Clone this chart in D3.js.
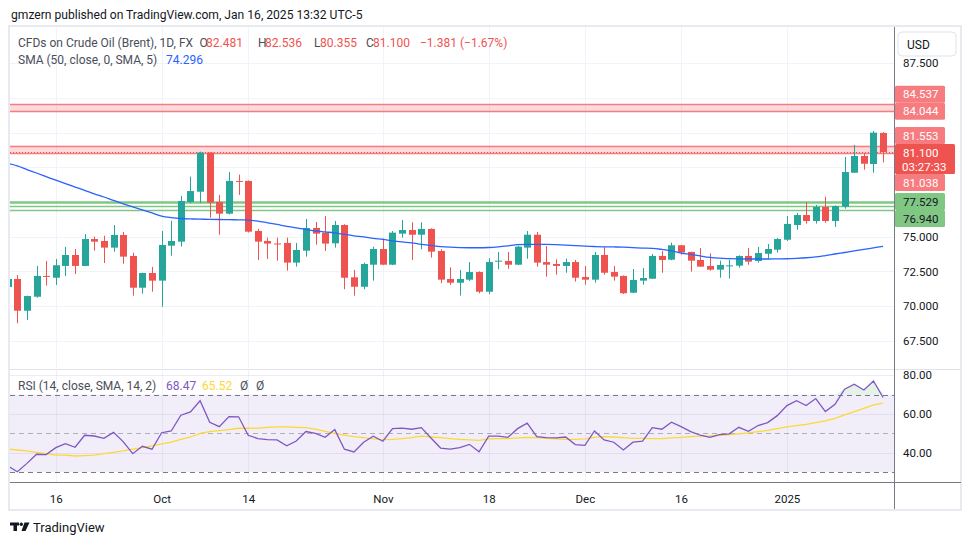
<!DOCTYPE html>
<html>
<head>
<meta charset="utf-8">
<script src="https://cdn.jsdelivr.net/npm/d3@7"></script>
<style>
  body { margin: 0; background: #fff; }
  svg text { font-family: Roboto, "Noto Sans", sans-serif; }
</style>
</head>
<body>
<svg id="chart" width="970" height="545"></svg>
<script>
// 1. Podaci (ocitani sa slike)

const dates = [
  "2024-09-09","2024-09-10","2024-09-11","2024-09-12","2024-09-13","2024-09-16","2024-09-17","2024-09-18",
  "2024-09-19","2024-09-20","2024-09-23","2024-09-24","2024-09-25","2024-09-26","2024-09-27","2024-09-30",
  "2024-10-01","2024-10-02","2024-10-03","2024-10-04","2024-10-07","2024-10-08","2024-10-09","2024-10-10",
  "2024-10-11","2024-10-14","2024-10-15","2024-10-16","2024-10-17","2024-10-18","2024-10-21","2024-10-22",
  "2024-10-23","2024-10-24","2024-10-25","2024-10-28","2024-10-29","2024-10-30","2024-10-31","2024-11-01",
  "2024-11-04","2024-11-05","2024-11-06","2024-11-07","2024-11-08","2024-11-11","2024-11-12","2024-11-13",
  "2024-11-14","2024-11-15","2024-11-18","2024-11-19","2024-11-20","2024-11-21","2024-11-22","2024-11-25",
  "2024-11-26","2024-11-27","2024-11-28","2024-11-29","2024-12-02","2024-12-03","2024-12-04","2024-12-05",
  "2024-12-06","2024-12-09","2024-12-10","2024-12-11","2024-12-12","2024-12-13","2024-12-16","2024-12-17",
  "2024-12-18","2024-12-19","2024-12-20","2024-12-23","2024-12-24","2024-12-26","2024-12-27","2024-12-30",
  "2024-12-31","2025-01-02","2025-01-03","2025-01-06","2025-01-07","2025-01-08","2025-01-09","2025-01-10",
  "2025-01-13","2025-01-14","2025-01-15","2025-01-16"
]

const opens = [
  71.37, 71.95, 69.66, 70.67, 72.17, 72.04, 72.89, 73.68, 72.89, 74.83, 74.69, 74.21, 75.12, 73.61, 71.32, 72.38,
  71.83, 74.35, 74.64, 77.50, 78.24, 81.06, 77.50, 76.66, 79.02, 79.02, 75.41, 74.69, 74.51, 74.55, 73.13, 73.99,
  75.63, 75.29, 74.52, 75.84, 72.07, 71.39, 72.98, 74.11, 72.98, 75.22, 75.48, 75.14, 75.56, 73.97, 71.95, 71.68,
  71.90, 72.45, 71.03, 73.23, 73.25, 72.98, 74.21, 75.14, 73.17, 73.03, 72.89, 73.17, 72.09, 71.90, 73.68, 72.45,
  72.17, 70.96, 71.83, 71.97, 73.61, 73.34, 74.38, 73.90, 73.32, 72.89, 72.62, 72.89, 72.91, 73.61, 73.25, 73.77,
  74.06, 74.78, 75.84, 76.56, 76.13, 77.14, 76.13, 77.16, 79.61, 80.82, 80.24, 82.481
]
const highs = [
  72.20, 72.24, 70.75, 72.89, 73.25, 73.39, 74.26, 74.11, 75.19, 75.00, 75.07, 75.84, 75.34, 73.85, 72.40, 72.82,
  75.41, 76.15, 77.93, 79.33, 81.13, 81.08, 78.01, 79.66, 79.47, 79.05, 75.56, 74.93, 74.93, 74.93, 74.55, 76.28,
  76.06, 76.49, 76.13, 75.90, 72.60, 73.13, 74.28, 74.88, 75.41, 76.20, 76.04, 76.04, 75.60, 74.09, 72.79, 72.60,
  73.17, 72.50, 73.44, 73.90, 73.90, 74.35, 75.41, 75.34, 74.33, 73.37, 73.41, 73.32, 72.89, 73.90, 74.24, 72.89,
  72.20, 72.67, 72.74, 73.75, 73.97, 74.57, 74.40, 73.92, 74.19, 73.80, 73.27, 73.34, 73.65, 74.19, 74.26, 74.47,
  74.91, 76.49, 76.71, 77.50, 77.29, 77.88, 77.25, 80.75, 81.61, 81.03, 82.62, 82.536
]
const lows = [
  71.20, 68.76, 68.99, 70.60, 71.47, 71.52, 72.17, 72.31, 72.87, 73.99, 73.10, 73.92, 73.05, 70.75, 70.89, 71.03,
  69.95, 73.63, 74.28, 77.41, 77.41, 76.37, 75.14, 76.60, 78.01, 75.30, 73.32, 73.39, 73.27, 72.55, 72.84, 73.56,
  74.42, 73.97, 74.21, 71.21, 70.75, 71.21, 71.83, 72.95, 72.95, 74.93, 73.32, 74.09, 73.49, 71.64, 71.52, 70.75,
  71.81, 70.92, 70.85, 72.65, 72.69, 72.96, 73.41, 72.84, 72.12, 72.26, 72.40, 71.76, 71.54, 71.68, 72.26, 71.83,
  70.87, 70.94, 71.54, 71.95, 72.40, 73.30, 73.70, 72.48, 72.82, 72.55, 72.04, 71.97, 72.76, 72.98, 73.13, 73.41,
  73.85, 74.69, 75.50, 75.94, 75.94, 76.01, 75.70, 77.02, 79.60, 79.83, 79.61, 80.355
]
const closes = [
  71.95, 69.66, 70.72, 72.17, 72.12, 72.94, 73.68, 72.89, 74.83, 74.64, 74.21, 75.12, 73.56, 71.32, 72.38, 71.83,
  74.40, 74.69, 77.57, 78.29, 81.06, 77.45, 76.66, 79.02, 78.98, 75.36, 74.64, 74.50, 74.48, 73.13, 74.04, 75.63,
  75.22, 74.50, 75.84, 72.04, 71.39, 73.03, 74.11, 72.98, 75.29, 75.48, 75.14, 75.56, 73.92, 71.90, 71.68, 71.95,
  72.45, 71.03, 73.17, 73.27, 72.98, 74.28, 75.14, 73.13, 72.98, 72.89, 73.17, 72.04, 71.90, 73.68, 72.40, 72.12,
  70.92, 71.88, 72.02, 73.61, 73.32, 74.38, 73.85, 73.27, 72.84, 72.62, 72.96, 72.93, 73.61, 73.20, 73.82, 74.11,
  74.83, 75.92, 76.56, 76.13, 77.14, 76.13, 77.21, 79.66, 80.82, 80.26, 82.50, 81.100
]

const sma50 = [
  80.29, 80.10, 79.84, 79.59, 79.33, 79.07, 78.82, 78.58, 78.34, 78.09, 77.86, 77.61, 77.37, 77.15, 76.93, 76.71,
  76.49, 76.38, 76.31, 76.28, 76.26, 76.25, 76.24, 76.23, 76.21, 76.20, 76.12, 76.00, 75.88, 75.75, 75.64, 75.52,
  75.41, 75.34, 75.27, 75.16, 75.06, 74.98, 74.88, 74.80, 74.70, 74.62, 74.55, 74.45, 74.37, 74.29, 74.24, 74.21,
  74.20, 74.20, 74.22, 74.27, 74.34, 74.42, 74.45, 74.45, 74.44, 74.42, 74.39, 74.35, 74.32, 74.29, 74.27, 74.26,
  74.24, 74.21, 74.18, 74.16, 74.08, 73.97, 73.82, 73.72, 73.61, 73.51, 73.45, 73.42, 73.40, 73.39, 73.39, 73.39,
  73.40, 73.41, 73.44, 73.48, 73.54, 73.64, 73.75, 73.86, 73.97, 74.09, 74.20, 74.296
]

const rsi = [
  33.2, 30.2, 34.5, 39.2, 39.0, 42.6, 44.7, 42.8, 49.0, 48.6, 47.4, 50.5, 45.7, 39.5, 43.3, 41.8,
  50.3, 51.2, 59.3, 61.0, 66.8, 55.7, 53.4, 58.6, 58.5, 49.0, 47.3, 46.7, 46.6, 43.6, 46.0, 50.9,
  50.0, 47.9, 51.9, 41.8, 40.4, 45.4, 48.5, 45.9, 52.4, 52.7, 52.1, 52.9, 47.6, 42.4, 41.8, 42.6,
  44.3, 40.5, 48.5, 48.5, 47.9, 52.4, 55.2, 48.3, 47.8, 47.6, 48.1, 44.2, 43.8, 51.2, 46.6, 45.4,
  41.4, 45.4, 46.0, 52.9, 52.1, 55.7, 53.4, 50.9, 49.0, 47.9, 49.3, 49.7, 53.1, 51.0, 54.0, 55.5,
  59.1, 64.3, 66.8, 64.3, 67.9, 61.2, 64.9, 72.7, 75.3, 72.3, 77.0, 68.47
]
const rsiMa = [
  41.9, 41.4, 40.9, 40.2, 39.5, 38.8, 38.7, 38.3, 38.5, 38.8, 39.5, 40.2, 40.9, 41.8, 42.6, 43.5,
  44.5, 45.4, 46.9, 48.1, 50.0, 50.9, 51.4, 51.9, 52.6, 52.6, 52.7, 53.1, 53.3, 53.3, 53.1, 52.9,
  52.1, 51.0, 50.0, 49.1, 48.3, 47.8, 47.1, 46.7, 46.9, 47.3, 47.8, 48.5, 48.1, 47.8, 47.3, 46.9,
  46.6, 46.4, 47.1, 47.3, 47.3, 47.6, 47.9, 47.8, 47.4, 47.1, 46.9, 46.9, 47.1, 47.9, 48.3, 48.1,
  47.8, 47.4, 47.4, 47.3, 47.3, 47.6, 47.9, 48.3, 48.5, 48.6, 49.0, 49.3, 49.7, 50.2, 50.9, 51.5,
  52.4, 53.3, 54.0, 54.6, 55.5, 56.4, 57.7, 59.5, 61.2, 62.9, 64.6, 65.52
]

const priceTicks = [67.5, 70, 72.5, 75, 77.5, 80, 82.5, 85, 87.5]
const rsiTicks = [40, 60, 80]
const rsiBands = [30, 50, 70]
const xTickDates = ["2024-09-16","2024-10-01","2024-10-14","2024-11-01","2024-11-18","2024-12-02","2024-12-16","2025-01-02"]
const xTickLabels = ["16", "Oct", "14", "Nov", "18", "Dec", "16", "2025"]

const redZones = [[84.044, 84.537], [81.038, 81.553]]
const greenLevels = [77.529, 77.22, 76.940]
const lastPrice = 81.100
const countdown = "03:27:33"
const levelBadges = [84.044, 84.537, 81.553, 81.038, 77.529, 76.940]

// 2. Dimenzije

const dim = {
  sirina: 970, visina: 545,
  left: 10, right: 894, frameRight: 961,
  mainTop: 27, mainBottom: 368,
  rsiTop: 370, rsiBottom: 482,
  axisBottom: 509,
}

const boje = {
  gore: "#26a69a", dolje: "#ef5350", sma: "#2962ff",
  rsi: "#7e57c2", rsiMa: "#fdd835", grid: "#f0f3fa",
  tekst: "#131722", siva: "#787b86", okvir: "#e0e3eb",
  legenda: "#4a4e59", crvenaOznaka: "#f77c80", zelena: "#81c784",
}

const svg = d3.select("#chart")

// 3. Razmjeri

const xSkala = d3.scalePoint()
  .domain(dates)
  .range([7.7, 883.1])

const ySkala = d3.scaleLinear()
  .domain([67.5, 87.5])
  .range([340.7, 63.3])

const rsiSkala = d3.scaleLinear()
  .domain([30, 80])
  .range([472.1, 375.1])

const px = d => Math.round(xSkala(d))
const py = v => Math.round(ySkala(v)) + 0.5

// 4. Okvir i naslov

svg.append("text")
    .attr("x", 11).attr("y", 19)
    .attr("font-size", 12.1)
    .attr("fill", boje.tekst)
    .text("gmzern published on TradingView.com, Jan 16, 2025 13:32 UTC-5")

svg.append("rect")
    .attr("x", 9).attr("y", 26)
    .attr("width", dim.frameRight - 9).attr("height", dim.axisBottom + 1 - 26)
    .attr("fill", "#fff")
    .attr("stroke", boje.okvir).attr("stroke-width", 1.5)

const defs = svg.append("defs")
defs.append("clipPath").attr("id", "clip-main")
  .append("rect")
    .attr("x", dim.left).attr("y", dim.mainTop)
    .attr("width", dim.right - dim.left).attr("height", dim.mainBottom - dim.mainTop)
defs.append("clipPath").attr("id", "clip-rsi")
  .append("rect")
    .attr("x", dim.left).attr("y", dim.rsiTop)
    .attr("width", dim.right - dim.left).attr("height", dim.rsiBottom - dim.rsiTop)

const glavni = svg.append("g").attr("clip-path", "url(#clip-main)")
const rsiG = svg.append("g").attr("clip-path", "url(#clip-rsi)")

// 5. Mreza

glavni.selectAll(".hgrid")
  .data(priceTicks)
  .join("line")
    .attr("x1", dim.left).attr("x2", dim.right)
    .attr("y1", d => py(d)).attr("y2", d => py(d))
    .attr("stroke", boje.grid)

glavni.selectAll(".vgrid")
  .data(xTickDates)
  .join("line")
    .attr("x1", d => px(d) + 0.5).attr("x2", d => px(d) + 0.5)
    .attr("y1", dim.mainTop).attr("y2", dim.mainBottom)
    .attr("stroke", boje.grid)

rsiG.selectAll(".vgrid")
  .data(xTickDates)
  .join("line")
    .attr("x1", d => px(d) + 0.5).attr("x2", d => px(d) + 0.5)
    .attr("y1", dim.rsiTop).attr("y2", dim.rsiBottom)
    .attr("stroke", boje.grid)

// 6. Razine (zone)

redZones.forEach(([lo, hi]) => {
  glavni.append("rect")
      .attr("x", dim.left).attr("width", dim.right - dim.left)
      .attr("y", ySkala(hi)).attr("height", ySkala(lo) - ySkala(hi))
      .attr("fill", "rgba(242,54,69,0.18)")
  ;[lo, hi].forEach(v => {
    glavni.append("line")
        .attr("x1", dim.left).attr("x2", dim.right)
        .attr("y1", py(v)).attr("y2", py(v))
        .attr("stroke", boje.crvenaOznaka).attr("stroke-width", 1.5)
  })
})

greenLevels.forEach((v, i) => {
  glavni.append("line")
      .attr("x1", dim.left).attr("x2", dim.right)
      .attr("y1", py(v)).attr("y2", py(v))
      .attr("stroke", boje.zelena).attr("stroke-width", i == 0 ? 2.5 : 1.5)
})

glavni.append("line")
    .attr("x1", dim.left).attr("x2", dim.right)
    .attr("y1", py(lastPrice)).attr("y2", py(lastPrice))
    .attr("stroke", boje.dolje).attr("stroke-dasharray", "1 2")

// 7. Svijece i SMA

const svijece = glavni.selectAll(".svijeca")
  .data(dates)
  .join("g")

svijece.append("line")
    .attr("x1", d => px(d) + 0.5).attr("x2", d => px(d) + 0.5)
    .attr("y1", (d, i) => ySkala(highs[i])).attr("y2", (d, i) => ySkala(lows[i]))
    .attr("stroke", (d, i) => closes[i] >= opens[i] ? boje.gore : boje.dolje)

svijece.append("rect")
    .attr("x", d => px(d) - 3)
    .attr("width", 7)
    .attr("y", (d, i) => ySkala(Math.max(opens[i], closes[i])))
    .attr("height", (d, i) => Math.max(1, Math.abs(ySkala(opens[i]) - ySkala(closes[i]))))
    .attr("fill", (d, i) => closes[i] >= opens[i] ? boje.gore : boje.dolje)

const smaLinija = d3.line()
  .x(d => xSkala(d))
  .y((d, i) => ySkala(sma50[i]))
  .curve(d3.curveMonotoneX)

glavni.append("path")
    .attr("d", smaLinija(dates))
    .attr("fill", "none")
    .attr("stroke", boje.sma).attr("stroke-width", 1.3)

// 8. RSI panel

rsiG.append("rect")
    .attr("x", dim.left).attr("width", dim.right - dim.left)
    .attr("y", rsiSkala(70)).attr("height", rsiSkala(30) - rsiSkala(70))
    .attr("fill", "rgba(126,87,194,0.1)")

rsiG.selectAll(".rgrid")
  .data(rsiTicks)
  .join("line")
    .attr("x1", dim.left).attr("x2", dim.right)
    .attr("y1", d => Math.round(rsiSkala(d)) + 0.5).attr("y2", d => Math.round(rsiSkala(d)) + 0.5)
    .attr("stroke", "rgba(126,87,194,0.12)")

rsiG.selectAll(".band")
  .data(rsiBands)
  .join("line")
    .attr("x1", dim.left).attr("x2", dim.right)
    .attr("y1", d => Math.round(rsiSkala(d)) + 0.5).attr("y2", d => Math.round(rsiSkala(d)) + 0.5)
    .attr("stroke", d => d == 50 ? "rgba(120,123,134,0.55)" : boje.siva)
    .attr("stroke-dasharray", "5 4")

const preko = d3.area()
  .x(d => xSkala(d))
  .y0(rsiSkala(70))
  .y1((d, i) => rsiSkala(Math.max(70, rsi[i])))

rsiG.append("path")
    .attr("d", preko(dates))
    .attr("fill", "rgba(76,175,80,0.15)")

rsiG.append("path")
    .attr("d", d3.line().x(d => xSkala(d)).y((d, i) => rsiSkala(rsiMa[i]))(dates))
    .attr("fill", "none")
    .attr("stroke", boje.rsiMa).attr("stroke-width", 1.3)

rsiG.append("path")
    .attr("d", d3.line().x(d => xSkala(d)).y((d, i) => rsiSkala(rsi[i]))(dates))
    .attr("fill", "none")
    .attr("stroke", boje.rsi).attr("stroke-width", 1.3)

// 9. Osi

svg.append("line")
    .attr("x1", dim.left).attr("x2", dim.frameRight)
    .attr("y1", 369.5).attr("y2", 369.5)
    .attr("stroke", boje.okvir)

svg.append("line")
    .attr("x1", dim.left).attr("x2", dim.frameRight)
    .attr("y1", dim.rsiBottom + 0.5).attr("y2", dim.rsiBottom + 0.5)
    .attr("stroke", boje.siva)

svg.append("line")
    .attr("x1", dim.right + 0.5).attr("x2", dim.right + 0.5)
    .attr("y1", dim.mainTop).attr("y2", dim.axisBottom)
    .attr("stroke", boje.siva)

const xOs = svg.append("g")
    .attr("transform", `translate(0,${dim.rsiBottom})`)
    .call(d3.axisBottom(xSkala)
      .tickValues(xTickDates)
      .tickFormat((d, i) => xTickLabels[i])
      .tickSize(0).tickPadding(13))
xOs.select(".domain").remove()
xOs.selectAll("text")
    .attr("font-family", "Roboto, 'Noto Sans', sans-serif")
    .attr("font-size", 11.5).attr("fill", boje.tekst)

// oznake na cjenovnoj osi - rasporedene da se ne preklapaju
const oznake = []
const cijenaY = ySkala(lastPrice)
oznake.push({top: cijenaY - 8, bottom: cijenaY + 22, v: lastPrice, tip: "cijena"})

levelBadges.forEach(v => {
  const h = 17
  const zeljeni = ySkala(v)
  const kandidati = [zeljeni]
  oznake.forEach(o => { kandidati.push(o.top - h / 2, o.bottom + h / 2) })
  const slobodni = kandidati.filter(c =>
    oznake.every(o => c + h / 2 <= o.top + 0.01 || c - h / 2 >= o.bottom - 0.01))
  const c = d3.least(slobodni, a => Math.abs(a - zeljeni))
  oznake.push({top: c - h / 2, bottom: c + h / 2, v: v, tip: v < 80 ? "zelena" : "crvena"})
})

const yOs = svg.append("g")
    .attr("transform", `translate(${dim.right},0)`)
    .call(d3.axisRight(ySkala)
      .tickValues(priceTicks)
      .tickFormat(d3.format(".3f"))
      .tickSize(0).tickPadding(9))
yOs.select(".domain").remove()
yOs.selectAll(".tick")
    .filter(d => oznake.some(o => ySkala(d) + 6 > o.top && ySkala(d) - 6 < o.bottom) || ySkala(d) < 58)
    .remove()
yOs.selectAll("text")
    .attr("font-family", "Roboto, 'Noto Sans', sans-serif")
    .attr("font-size", 11.5).attr("fill", boje.tekst)

const rOs = svg.append("g")
    .attr("transform", `translate(${dim.right},0)`)
    .call(d3.axisRight(rsiSkala)
      .tickValues(rsiTicks)
      .tickFormat(d3.format(".2f"))
      .tickSize(0).tickPadding(9))
rOs.select(".domain").remove()
rOs.selectAll("text")
    .attr("font-family", "Roboto, 'Noto Sans', sans-serif")
    .attr("font-size", 11.5).attr("fill", boje.tekst)

const oznakeG = svg.append("g")
oznake.forEach(o => {
  const boja = o.tip == "cijena" ? boje.dolje : o.tip == "zelena" ? boje.zelena : boje.crvenaOznaka
  oznakeG.append("rect")
      .attr("x", dim.right + 1).attr("y", o.top)
      .attr("width", o.tip == "cijena" ? 60 : 50).attr("height", o.bottom - o.top)
      .attr("rx", 1.5)
      .attr("fill", boja)
  oznakeG.append("text")
      .attr("x", dim.right + 9).attr("y", o.top + 12.5)
      .attr("font-size", 11.5)
      .attr("fill", o.tip == "zelena" ? boje.tekst : "#fff")
      .text(d3.format(".3f")(o.v))
  if (o.tip == "cijena") {
    oznakeG.append("text")
        .attr("x", dim.right + 8).attr("y", o.top + 26.5)
        .attr("font-size", 11.5).attr("fill", "#fff")
        .text(countdown)
  }
})

svg.append("rect")
    .attr("x", 898).attr("y", 32)
    .attr("width", 58).attr("height", 24).attr("rx", 4)
    .attr("fill", "#fff").attr("stroke", boje.okvir)
svg.append("text")
    .attr("x", 907).attr("y", 48.5)
    .attr("font-size", 12).attr("fill", boje.tekst)
    .text("USD")

// 10. Legenda

const legenda = [
  {x: 18, y: 47, t: "CFDs on Crude Oil (Brent), 1D, FX", c: boje.legenda},
  {x: 199.5, y: 47, t: "O", c: boje.legenda}, {x: 206, y: 47, t: "82.481", c: boje.dolje},
  {x: 258, y: 47, t: "H", c: boje.legenda}, {x: 265, y: 47, t: "82.536", c: boje.dolje},
  {x: 314, y: 47, t: "L", c: boje.legenda}, {x: 320, y: 47, t: "80.355", c: boje.dolje},
  {x: 366, y: 47, t: "C", c: boje.legenda}, {x: 373, y: 47, t: "81.100", c: boje.dolje},
  {x: 420, y: 47, t: "\u22121.381 (\u22121.67%)", c: boje.dolje},
  {x: 18, y: 63.5, t: "SMA (50, close, 0, SMA, 5)", c: boje.legenda},
  {x: 166, y: 63.5, t: "74.296", c: boje.sma},
  {x: 18, y: 389.5, t: "RSI (14, close, SMA, 14, 2)", c: boje.legenda},
  {x: 166, y: 389.5, t: "68.47", c: boje.rsi},
  {x: 202, y: 389.5, t: "65.52", c: boje.rsiMa},
  {x: 240, y: 389.5, t: "\u00d8", c: boje.legenda},
  {x: 256, y: 389.5, t: "\u00d8", c: boje.legenda},
]
svg.append("g").selectAll("text")
  .data(legenda)
  .join("text")
    .attr("x", d => d.x).attr("y", d => d.y)
    .attr("font-size", 12)
    .attr("fill", d => d.c)
    .text(d => d.t)

// 11. Logo

const logo = svg.append("g").attr("fill", boje.tekst)
logo.append("path").attr("d", "M10,522.5H19V525.5H17V531H13.5V525.5H10Z")
logo.append("circle").attr("cx", 21.3).attr("cy", 524.2).attr("r", 1.7)
logo.append("path").attr("d", "M24.5,522.5H29.5L25.5,531H21.5Z")
svg.append("text")
    .attr("x", 33).attr("y", 531.5)
    .attr("font-size", 13).attr("fill", boje.tekst)
    .text("TradingView")
</script>
</body>
</html>
